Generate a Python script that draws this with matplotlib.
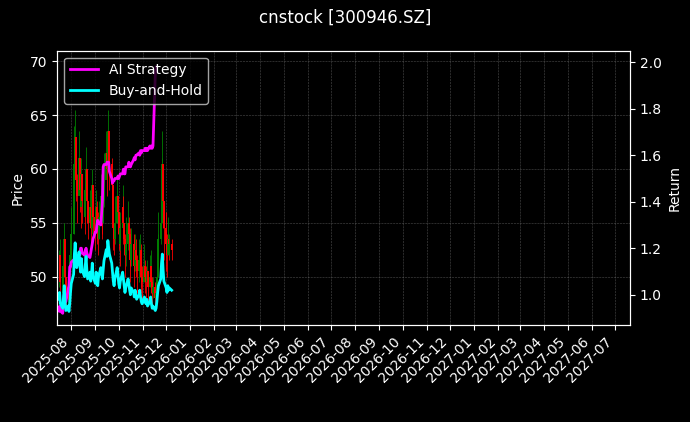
import matplotlib
matplotlib.use("Agg")
import matplotlib.pyplot as plt
import matplotlib.dates as mdates
import numpy as np
import pandas as pd

TITLE = "cnstock [300946.SZ]"
START = "2025-07-16"

close = [50.5, 52.0, 49.5, 48.5, 51.0, 53.5, 50.0, 48.0, 49.0, 47.8,
         49.5, 52.0, 54.0, 56.0, 60.5, 63.0, 59.0, 57.5, 61.0, 58.0,
         56.5, 59.5, 57.0, 55.5, 58.0, 60.0, 57.0, 55.0, 56.5, 54.5,
         56.0, 58.5, 55.5, 54.0, 56.5, 55.0, 53.5, 55.5, 57.5, 56.0,
         55.0, 57.0, 59.0, 61.5, 60.0, 63.5, 62.0, 60.5, 58.5, 56.5,
         54.5, 53.5, 55.0, 57.5, 56.0, 54.0, 53.0, 54.5, 56.5, 55.0,
         53.5, 52.0, 53.0, 55.0, 54.0, 52.5, 51.5, 53.0, 52.0, 51.0,
         52.5, 51.5, 50.5, 51.5, 52.5, 51.0, 50.0, 49.5, 51.0, 50.0,
         49.5, 50.5, 49.0, 50.0, 51.0, 49.5, 48.5, 49.0, 48.0, 48.5,
         50.0, 52.0, 53.5, 55.0, 58.5, 60.5, 57.0, 54.5, 53.0, 52.0,
         53.5, 52.5, 53.0, 52.5]
high_add = [2.0, 1.5, 2.5, 1.0, 2.0, 1.5, 2.5, 1.0, 1.5, 2.0,
            1.5, 2.0, 2.5, 3.0, 3.5, 2.5, 3.0, 2.0, 2.5, 3.0,
            2.0, 1.5, 2.5, 2.0, 1.5, 2.0, 2.5, 2.0, 1.5, 2.0,
            2.0, 1.5, 2.5, 2.0, 1.5, 2.0, 2.5, 1.5, 2.0, 2.0,
            1.5, 2.0, 2.5, 2.0, 2.5, 2.0, 1.5, 2.0, 2.5, 2.0,
            2.0, 1.5, 2.5, 2.0, 1.5, 2.0, 2.0, 1.5, 2.0, 2.5,
            1.5, 2.0, 2.5, 2.0, 1.5, 2.0, 2.0, 1.5, 2.0, 2.5,
            1.5, 2.0, 1.5, 2.0, 1.5, 2.0, 1.5, 1.5, 2.0, 1.5,
            1.5, 1.0, 1.5, 2.0, 1.5, 1.0, 1.5, 1.0, 1.5, 1.5,
            1.5, 2.0, 2.5, 2.0, 2.5, 3.0, 2.5, 2.0, 3.0, 2.0,
            2.0, 1.0, 1.0, 1.0]
low_sub = [1.5, 2.0, 1.5, 1.0, 2.0, 2.5, 1.5, 1.0, 1.5, 1.0,
           1.5, 2.0, 2.5, 2.0, 3.0, 3.0, 2.0, 2.5, 3.0, 2.0,
           2.0, 2.5, 2.0, 1.5, 2.0, 2.5, 2.0, 1.5, 2.0, 1.5,
           2.0, 2.5, 2.0, 1.5, 2.0, 2.0, 1.5, 2.0, 2.5, 2.0,
           1.5, 2.0, 2.5, 2.0, 2.5, 3.0, 2.0, 2.5, 2.0, 2.5,
           2.0, 1.5, 2.0, 2.5, 2.0, 1.5, 2.0, 2.0, 2.5, 2.0,
           1.5, 2.0, 2.0, 2.5, 2.0, 1.5, 2.0, 2.0, 1.5, 2.0,
           2.0, 1.5, 2.0, 2.0, 1.5, 2.0, 1.5, 2.0, 1.5, 1.5,
           1.5, 1.0, 1.5, 1.0, 1.5, 1.0, 1.5, 1.0, 1.0, 1.5,
           1.5, 1.0, 1.5, 2.0, 2.5, 2.0, 2.5, 3.0, 2.5, 2.0,
           1.5, 1.0, 1.0, 1.0]
strategy = [0.93, 0.95, 0.93, 0.92, 0.96, 1.00, 0.98, 0.97, 1.02, 1.04,
            1.12, 1.12, 1.14, 1.15, 1.15, 1.15, 1.14, 1.15, 1.17, 1.17,
            1.20, 1.20, 1.18, 1.17, 1.19, 1.20, 1.18, 1.17, 1.16, 1.18,
            1.20, 1.22, 1.24, 1.27, 1.27, 1.30, 1.32, 1.31, 1.30, 1.35,
            1.40, 1.55, 1.56, 1.56, 1.57, 1.57, 1.57, 1.53, 1.50, 1.48,
            1.49, 1.49, 1.50, 1.50, 1.51, 1.50, 1.51, 1.52, 1.52, 1.54,
            1.52, 1.52, 1.55, 1.55, 1.57, 1.56, 1.55, 1.56, 1.58, 1.59,
            1.58, 1.60, 1.60, 1.61, 1.60, 1.62, 1.61, 1.62, 1.62, 1.63,
            1.62, 1.63, 1.62, 1.64, 1.63, 1.64, 1.63, 1.64, 1.95, 1.98]

dates = pd.bdate_range(START, periods=len(close))
opens = [close[0]] + close[:-1]
high = [c + d for c, d in zip(close, high_add)]
low = [c - d for c, d in zip(close, low_sub)]
bh = np.array(close) / 51.5

plt.style.use("dark_background")
fig, ax = plt.subplots(figsize=(6.9, 4.22), dpi=100)
fig.suptitle(TITLE, fontsize=12)
x = mdates.date2num(dates)
for xi, o, c, h, l in zip(x, opens, close, high, low):
    col = "green" if c >= o else "red"
    ax.vlines(xi, l, h, color=col, linewidth=0.6)
    ax.vlines(xi, min(o, c), max(o, c), color=col, linewidth=1.4)
ax.set_ylabel("Price")
ax.set_ylim(45.5, 71)
ax.grid(True, color="gray", linestyle="--", linewidth=0.4, alpha=0.6)

ax2 = ax.twinx()
l1, = ax2.plot(dates[:len(strategy)], strategy, color="magenta", linewidth=2, label="AI Strategy")
l2, = ax2.plot(dates, bh, color="cyan", linewidth=2, label="Buy-and-Hold")
ax2.set_ylabel("Return")
ax2.set_ylim(0.87, 2.05)
ax2.legend(handles=[l1, l2], loc="upper left")

ax.set_xlim(pd.Timestamp("2025-07-14"), pd.Timestamp("2027-07-20"))
ax.xaxis.set_major_locator(mdates.MonthLocator())
ax.xaxis.set_major_formatter(mdates.DateFormatter("%Y-%m"))
plt.setp(ax.get_xticklabels(), rotation=45, ha="right")
fig.subplots_adjust(left=0.083, right=0.913, top=0.88, bottom=0.23)
fig.savefig("out.png", dpi=100)
